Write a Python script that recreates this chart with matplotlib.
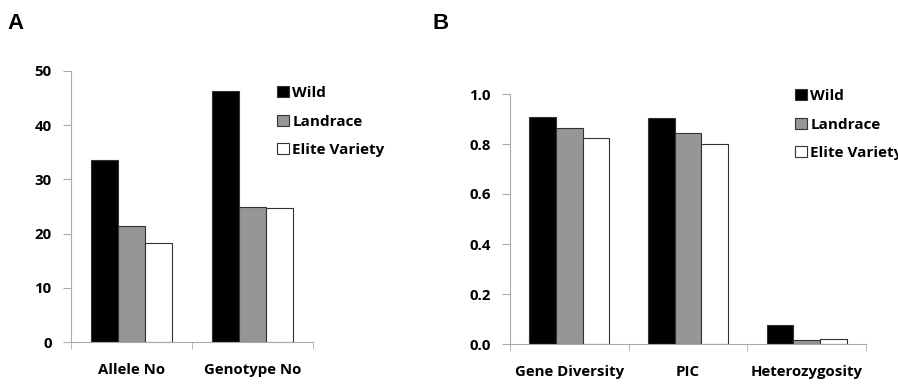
import numpy as np
import matplotlib.pyplot as plt

plt.rcParams['font.family'] = ['Open Sans', 'DejaVu Sans']
plt.rcParams['font.weight'] = 'bold'

series = ['Wild', 'Landrace', 'Elite Variety']
colors = ['#000000', '#969696', '#ffffff']

cats_a = ['Allele No', 'Genotype No']
vals_a = [[33.5, 46.4], [21.4, 25.0], [18.3, 24.7]]

cats_b = ['Gene Diversity', 'PIC', 'Heterozygosity']
vals_b = [[0.909, 0.903, 0.076], [0.863, 0.845, 0.016], [0.823, 0.801, 0.021]]

fig = plt.figure(figsize=(8.98, 3.85), dpi=100)
W, H = 898, 385


def px_axes(x0, x1, ytop, ybot):
    return fig.add_axes([x0 / W, 1 - ybot / H, (x1 - x0) / W, (ybot - ytop) / H])


def draw(ax, cats, vals, ymax, step, fmt, leg_xy):
    n = len(cats)
    x = np.arange(n)
    bw = 0.225
    for i, (name, col) in enumerate(zip(series, colors)):
        ax.bar(x + (i - 1) * bw, vals[i], bw, color=col, edgecolor='#333333',
               linewidth=0.8, label=name)
    ax.set_xlim(-0.5, n - 0.5)
    ax.set_ylim(0, ymax)
    ticks = np.arange(0, ymax + step / 2, step)
    ax.set_yticks(ticks)
    ax.set_yticklabels([fmt.format(v) for v in ticks])
    ax.set_xticks(x)
    ax.set_xticklabels(cats)
    ax.set_xticks(np.arange(-0.5, n, 1.0), minor=True)
    ax.tick_params(axis='x', which='major', length=0, pad=15, labelsize=10.8)
    ax.tick_params(axis='x', which='minor', length=5, color='#aaaaaa', direction='out')
    ax.tick_params(axis='y', length=6, color='#aaaaaa', labelsize=10.8, pad=8)
    for s in ['top', 'right']:
        ax.spines[s].set_visible(False)
    for s in ['left', 'bottom']:
        ax.spines[s].set_color('#aaaaaa')
    ax.legend(loc='upper left', bbox_to_anchor=leg_xy, frameon=False,
              fontsize=11, handlelength=0.75, handleheight=0.75,
              handletextpad=0.25, labelspacing=0.95, borderaxespad=0)


ax_a = px_axes(71, 313, 71, 342)
draw(ax_a, cats_a, vals_a, 50, 10, '{:.0f}',
     ((271 - 71) / (313 - 71), (342 - 80) / (342 - 71)))

ax_b = px_axes(510, 866, 94, 344)
draw(ax_b, cats_b, vals_b, 1.0, 0.2, '{:.1f}',
     ((789 - 510) / (866 - 510), (344 - 83) / (344 - 94)))

fig.text(7 / W, 1 - 29 / H, 'A', fontsize=16, fontweight='bold',
         family=['Liberation Sans', 'DejaVu Sans'])
fig.text(432 / W, 1 - 29 / H, 'B', fontsize=16, fontweight='bold',
         family=['Liberation Sans', 'DejaVu Sans'])

fig.savefig('out.png', dpi=100)
